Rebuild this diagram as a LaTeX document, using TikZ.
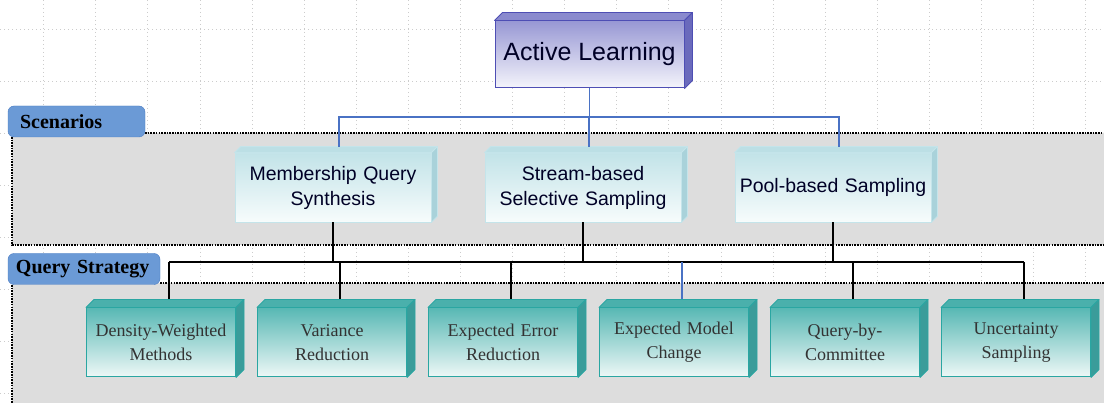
\documentclass[tikz,border=0pt]{standalone}
\usepackage{fontspec}
\setmainfont{Liberation Serif}
\setsansfont{Liberation Sans}
\usetikzlibrary{calc,positioning}
\definecolor{altop}{HTML}{9898D4}
\definecolor{albot}{HTML}{F4F4FB}
\definecolor{alborder}{HTML}{4E4EB4}
\definecolor{alface}{HTML}{8A8ACE}
\definecolor{alside}{HTML}{6A6ABC}
\definecolor{scentop}{HTML}{C2E3E8}
\definecolor{scenbot}{HTML}{F7FCFC}
\definecolor{scenborder}{HTML}{C4E4EA}
\definecolor{scenface}{HTML}{BCDFE5}
\definecolor{scenside}{HTML}{A9D2DA}
\definecolor{strattop}{HTML}{58B8B4}
\definecolor{stratbot}{HTML}{EEF8F7}
\definecolor{stratborder}{HTML}{2AA6A2}
\definecolor{stratface}{HTML}{4AB0AC}
\definecolor{stratside}{HTML}{3A9C9A}
\definecolor{tagfill}{HTML}{6B9AD6}
\definecolor{tagborder}{HTML}{4A7CC4}
\definecolor{zone}{HTML}{DDDDDD}
\definecolor{linkblue}{HTML}{4A72C4}
\tikzstyle{alblock} = [draw=alborder, line width=1pt, top color=altop, bottom color=albot,
	minimum width=189pt, minimum height=67pt, text=black!85!blue,
	font=\sffamily\fontsize{25}{30}\selectfont]
\tikzstyle{scenblock} = [draw=scenborder, line width=0.8pt, top color=scentop, bottom color=scenbot,
	minimum width=196pt, minimum height=69pt, text width=196pt, inner xsep=0pt, align=center,
	text=black!85!blue, font=\sffamily\fontsize{19.5}{25}\selectfont]
\tikzstyle{stratblock} = [draw=stratborder, line width=1pt, top color=strattop, bottom color=stratbot,
	minimum width=149pt, minimum height=69pt, text width=140pt, align=center,
	text=black!80, font=\fontsize{18}{24}\selectfont]
\tikzstyle{tag} = [draw=tagborder, fill=tagfill, rounded corners=6pt, minimum height=31pt,
	align=left, font=\bfseries\fontsize{20}{22}\selectfont]
\tikzstyle{dotline} = [line width=2.8pt, dash pattern=on 1.6pt off 1.1pt]
\tikzstyle{gridline} = [gray!40, line width=0.6pt, dash pattern=on 0.8pt off 3.2pt]
\tikzstyle{blueline} = [linkblue, line width=1.2pt]
\tikzstyle{busline} = [black, line width=2pt]

\begin{document}
\begin{tikzpicture}[x=1pt, y=-1pt]
	\useasboundingbox (0,0) rectangle (1104,403);
	\fill[white] (0,0) rectangle (1104,403);

	% background grid
	\foreach \x in {43.5,95.6,...,1104} \draw[gridline] (\x,0) -- (\x,403);
	\foreach \y in {29,81,...,403} \draw[gridline] (0,\y) -- (1104,\y);

	% zones
	\fill[zone] (12,133) rectangle (1104,245);
	\draw[dotline] (145,133) -- (1104,133);
	\draw[dotline] (12,137) -- (12,245) -- (1104,245);
	\fill[zone] (12,283) rectangle (1104,403);
	\draw[dotline] (160,283) -- (1104,283);
	\draw[dotline] (12,285) -- (12,403);
	\node [tag, text width=113pt, inner xsep=12pt] (scen) at (76.5,121.5) {Scenarios};
	\node [tag, text width=136pt, inner xsep=8pt] (qs) at (84,269) {Query Strategy};

	% boxes
	\node [alblock] (al) at (589.5,54.5) {Active Learning};

	\begin{scope}[node distance=250pt]
	\node [scenblock] (mqs) at (333,187.5) {Membership Query\\ Synthesis};
	\node [scenblock, right of=mqs] (sbs) {Stream-based\\ Selective Sampling};
	\node [scenblock, right of=sbs] (pbs) {Pool-based Sampling};
	\end{scope}

	\begin{scope}[node distance=171pt]
	\node [stratblock] (dwm) at (161,342.5) {Density-Weighted\\ Methods};
	\node [stratblock, right of=dwm] (vr) {Variance\\ Reduction};
	\node [stratblock, right of=vr] (eer) {Expected Error\\ Reduction};
	\node [stratblock, right of=eer] (emc) {Expected Model\\ Change};
	\node [stratblock, right of=emc] (qbc) {Query-by-\\ Committee};
	\node [stratblock, right of=qbc] (us) {Uncertainty\\ Sampling};
	\end{scope}

	% 3d faces
	\foreach \n/\d/\f/\s/\b in {al/8/alface/alside/alborder,
		mqs/6/scenface/scenside/scenborder, sbs/6/scenface/scenside/scenborder,
		pbs/6/scenface/scenside/scenborder,
		dwm/8/stratface/stratside/stratborder, vr/8/stratface/stratside/stratborder,
		eer/8/stratface/stratside/stratborder, emc/8/stratface/stratside/stratborder,
		qbc/8/stratface/stratside/stratborder, us/8/stratface/stratside/stratborder} {
		\filldraw[fill=\f, draw=\b, line width=0.8pt, line join=round] (\n.north west) -- ++(\d,-\d)
			-- ($(\n.north east)+(\d,-\d)$) -- (\n.north east) -- cycle;
		\filldraw[fill=\s, draw=\b, line width=0.8pt, line join=round] (\n.north east) -- ++(\d,-\d)
			-- ($(\n.south east)+(\d,-\d)$) -- (\n.south east) -- cycle;
		\coordinate (\n-top) at ($(\n.north)+(\d,-\d)$);
	}

	% connectors
	\coordinate (split) at (589.5,117);
	\coordinate (bus) at (0,262);
	\draw[blueline] (al.south) -- (split);
	\draw[blueline] (mqs-top) |- (split) -| (pbs-top);
	\draw[blueline] (sbs-top) -- (sbs-top |- split);
	\foreach \n in {mqs,sbs,pbs} \draw[busline] (\n.south) -- (\n.south |- bus);
	\draw[busline] (dwm-top |- bus) -- (us-top |- bus);
	\foreach \n in {dwm,vr,eer,qbc,us} \draw[busline] (\n-top |- bus) -- (\n-top);
	\draw[blueline] (emc-top |- bus) -- (emc-top);

\end{tikzpicture}
\end{document}
